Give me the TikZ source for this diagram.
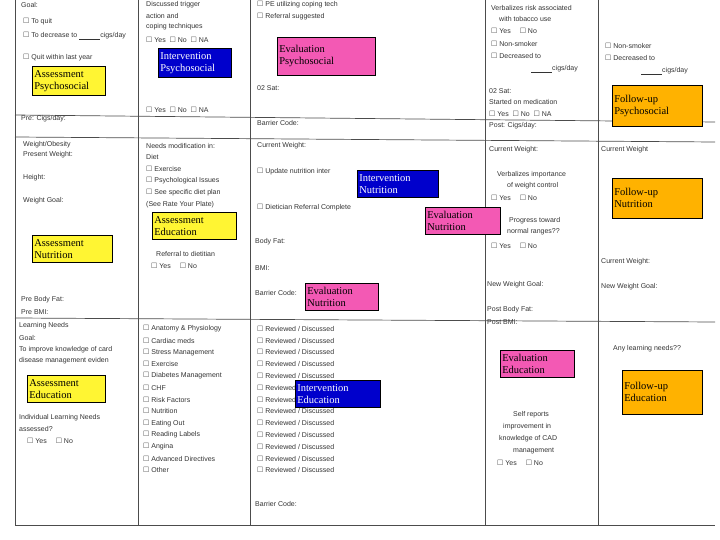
\documentclass[tikz,border=0pt]{standalone}
\usepackage{amssymb}
\usepackage{fontspec}
\setmainfont{Liberation Serif}
\newfontfamily\formfont{Liberation Sans}
\begin{document}
\begin{tikzpicture}[x=1pt,y=-1pt,
  lab/.style={draw=black,line width=0.6pt,anchor=north west,align=left,inner xsep=2pt,inner ysep=4pt,font=\fontsize{10.5}{12}\selectfont,text width=#1-4pt},
  asm/.style={lab=#1,fill=yellow!80!white},
  itv/.style={lab=#1,fill=blue!80!black,text=white},
  evl/.style={lab=#1,fill=magenta!65!white},
  fup/.style={lab=#1,fill=orange!60!yellow},
  frm/.style={anchor=west,font=\formfont\fontsize{7}{8}\selectfont,text=black!80,inner sep=1pt},
  rule/.style={draw=black!70,line width=0.7pt}]
\useasboundingbox (0,0) rectangle (720,540);
\draw[rule] (15,115) -- (715,122);
\draw[rule] (15,137) -- (715,142);
\draw[rule] (15,318) -- (715,322);
\draw[rule] (15,525) -- (715,525);
\draw[rule] (15,0) -- (15,525);
\foreach \x in {138,250,485,598}{\draw[rule] (\x,0) -- (\x,525);}
\node[frm] (f1) at (20,5) {Goal:};
\node[frm] (f2) at (22,22) {$\square$ To quit};
\node[frm] (f3) at (22,36) {$\square$ To decrease to \underline{\hspace{3em}}cigs/day};
\node[frm] (f4) at (22,58) {$\square$ Quit within last year};
\node[frm] (f5) at (20,119) {Pre: Cigs/day:};
\node[frm] (f6) at (22,145) {Weight/Obesity};
\node[frm] (f7) at (22,155) {Present Weight:};
\node[frm] (f8) at (22,178) {Height:};
\node[frm] (f9) at (22,201) {Weight Goal:};
\node[frm] (f10) at (20,300) {Pre Body Fat:};
\node[frm] (f11) at (20,312) {Pre BMI:};
\node[frm] (f12) at (18,326) {Learning Needs};
\node[frm] (f13) at (18,338) {Goal:};
\node[frm] (f14) at (18,350) {To improve knowledge of card};
\node[frm] (f15) at (18,361) {disease management eviden};
\node[frm] (f16) at (18,418) {Individual Learning Needs};
\node[frm] (f17) at (18,429) {assessed?};
\node[frm] (f18) at (26,441) {$\square$ Yes \quad $\square$ No};
\node[frm] (f19) at (145,5) {Discussed trigger};
\node[frm] (f20) at (145,16) {action and};
\node[frm] (f21) at (145,27) {coping techniques};
\node[frm] (f22) at (145,40) {$\square$ Yes \ $\square$ No \ $\square$ NA};
\node[frm] (f23) at (145,110) {$\square$ Yes \ $\square$ No \ $\square$ NA};
\node[frm] (f24) at (145,146) {Needs modification in:};
\node[frm] (f25) at (145,157) {Diet};
\node[frm] (f26) at (145,169) {$\square$ Exercise};
\node[frm] (f27) at (145,181) {$\square$ Psychological Issues};
\node[frm] (f28) at (145,193) {$\square$ See specific diet plan};
\node[frm] (f29) at (145,205) {(See Rate Your Plate)};
\node[frm] (f30) at (155,254) {Referral to dietitian};
\node[frm] (f31) at (150,266) {$\square$ Yes \quad $\square$ No};
\foreach \t [count=\i] in {Anatomy \& Physiology,Cardiac meds,Stress Management,Exercise,Diabetes Management,CHF,Risk Factors,Nutrition,Eating Out,Reading Labels,Angina,Advanced Directives,Other}
  {\node[frm] (l\i) at (142,317+\i*11.8) {$\square$ \t};}
\foreach \i in {1,...,13}
  {\node[frm] (r\i) at (256,317+\i*11.8) {$\square$ Reviewed / Discussed};}
\node[frm] (f32) at (256,5) {$\square$ PE utilizing coping tech};
\node[frm] (f33) at (256,17) {$\square$ Referral suggested};
\node[frm] (f34) at (256,88) {02 Sat:};
\node[frm] (f35) at (256,123) {Barrier Code:};
\node[frm] (f36) at (256,146) {Current Weight:};
\node[frm] (f37) at (256,172) {$\square$ Update nutrition inter};
\node[frm] (f38) at (256,208) {$\square$ Dietician Referral Complete};
\node[frm] (f39) at (254,242) {Body Fat:};
\node[frm] (f40) at (254,268) {BMI:};
\node[frm] (f41) at (254,293) {Barrier Code:};
\node[frm] (f42) at (254,504) {Barrier Code:};
\node[frm] (f43) at (490,8) {Verbalizes risk associated};
\node[frm] (f44) at (498,19) {with tobacco use};
\node[frm] (f45) at (490,31) {$\square$ Yes \quad $\square$ No};
\node[frm] (f46) at (490,44) {$\square$ Non-smoker};
\node[frm] (f47) at (490,56) {$\square$ Decreased to};
\node[frm] (f48) at (530,69) {\underline{\hspace{3em}}cigs/day};
\node[frm] (f49) at (488,91) {02 Sat:};
\node[frm] (f50) at (488,102) {Started on medication};
\node[frm] (f51) at (488,114) {$\square$ Yes \ $\square$ No \ $\square$ NA};
\node[frm] (f52) at (488,126) {Post: Cigs/day:};
\node[frm] (f53) at (488,150) {Current Weight:};
\node[frm] (f54) at (496,175) {Verbalizes importance};
\node[frm] (f55) at (506,186) {of weight control};
\node[frm] (f56) at (490,198) {$\square$ Yes \quad $\square$ No};
\node[frm] (f57) at (508,221) {Progress toward};
\node[frm] (f58) at (506,232) {normal ranges??};
\node[frm] (f59) at (490,246) {$\square$ Yes \quad $\square$ No};
\node[frm] (f60) at (486,285) {New Weight Goal:};
\node[frm] (f61) at (486,310) {Post Body Fat:};
\node[frm] (f62) at (486,322) {Post BMI:};
\node[frm] (f63) at (512,415) {Self reports};
\node[frm] (f64) at (502,427) {improvement in};
\node[frm] (f65) at (498,439) {knowledge of CAD};
\node[frm] (f66) at (512,451) {management};
\node[frm] (f67) at (496,463) {$\square$ Yes \quad $\square$ No};
\node[frm] (f68) at (604,46) {$\square$ Non-smoker};
\node[frm] (f69) at (604,58) {$\square$ Decreased to};
\node[frm] (f70) at (640,71) {\underline{\hspace{3em}}cigs/day};
\node[frm] (f71) at (600,150) {Current Weight};
\node[frm] (f72) at (600,262) {Current Weight:};
\node[frm] (f73) at (600,287) {New Weight Goal:};
\node[frm] (f74) at (612,349) {Any learning needs??};
\node[asm=73pt] (ap) at (32,66) {Assessment\\Psychosocial};
\node[itv=73pt] (ip) at (158,48) {Intervention\\Psychosocial};
\node[evl=98pt,minimum height=38pt] (ep) at (277,37) {Evaluation\\Psychosocial};
\node[fup=90pt,minimum height=41pt] (fp) at (612,85) {Follow-up\\Psychosocial};
\node[itv=81pt] (in) at (357,170) {Intervention\\Nutrition};
\node[fup=90pt,minimum height=40pt] (fn) at (612,178) {Follow-up\\Nutrition};
\node[evl=75pt] (en) at (425,207) {Evaluation\\Nutrition};
\node[asm=84pt] (ae) at (152,212) {Assessment\\Education};
\node[asm=80pt] (an) at (32,235) {Assessment\\Nutrition};
\node[evl=73pt] (en2) at (305,283) {Evaluation\\Nutrition};
\node[evl=74pt] (ee) at (500,350) {Evaluation\\Education};
\node[fup=80pt,minimum height=44pt] (fe) at (622,370) {Follow-up\\Education};
\node[asm=78pt] (ae2) at (27,375) {Assessment\\Education};
\node[itv=85pt] (ie) at (295,380) {Intervention\\Education};
\end{tikzpicture}
\end{document}
